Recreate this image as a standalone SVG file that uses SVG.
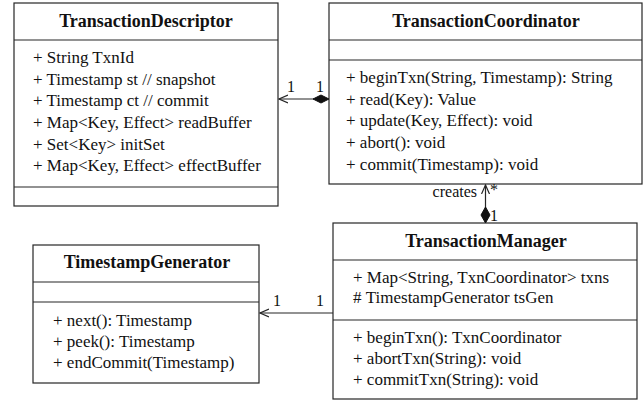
<svg xmlns="http://www.w3.org/2000/svg" width="644" height="402" viewBox="0 0 644 402">
<defs>
<style>
.box{fill:#fff;stroke:#262626;stroke-width:1.2}
.sep{stroke:#262626;stroke-width:1.2}
.t{font-family:'Liberation Serif','Times New Roman',serif;font-size:18px;font-weight:bold;fill:#111;text-anchor:middle}
.m{font-family:'Liberation Serif','Times New Roman',serif;font-size:17px;fill:#111}
.l{font-family:'Liberation Serif','Times New Roman',serif;font-size:16px;fill:#111}
.ln{stroke:#262626;stroke-width:1.2;fill:none}
.dia{fill:#111;stroke:#111;stroke-width:1}
</style>
<marker id="open" viewBox="0 0 10 10" refX="1" refY="5" markerWidth="10" markerHeight="10" markerUnits="userSpaceOnUse" orient="auto">
<path d="M10,1 L1,5 L10,9" fill="none" stroke="#262626" stroke-width="1.2"/>
</marker>
</defs>
<g id="TransactionDescriptor">
<rect class="box" x="14" y="3" width="264" height="203"/>
<line class="sep" x1="14" y1="40" x2="278" y2="40"/>
<line class="sep" x1="14" y1="187" x2="278" y2="187"/>
<text class="t" x="146" y="27">TransactionDescriptor</text>
<text class="m" x="33" y="63">+ String TxnId</text>
<text class="m" x="33" y="84.5">+ Timestamp st // snapshot</text>
<text class="m" x="33" y="106">+ Timestamp ct // commit</text>
<text class="m" x="33" y="128">+ Map&lt;Key, Effect&gt; readBuffer</text>
<text class="m" x="33" y="149.5">+ Set&lt;Key&gt; initSet</text>
<text class="m" x="33" y="171">+ Map&lt;Key, Effect&gt; effectBuffer</text>
</g>
<g id="TransactionCoordinator">
<rect class="box" x="329" y="3" width="313" height="181"/>
<line class="sep" x1="329" y1="40" x2="642" y2="40"/>
<line class="sep" x1="329" y1="60" x2="642" y2="60"/>
<text class="t" x="486" y="27">TransactionCoordinator</text>
<text class="m" x="346" y="83">+ beginTxn(String, Timestamp): String</text>
<text class="m" x="346" y="104.5">+ read(Key): Value</text>
<text class="m" x="346" y="126">+ update(Key, Effect): void</text>
<text class="m" x="346" y="148">+ abort(): void</text>
<text class="m" x="346" y="169.5">+ commit(Timestamp): void</text>
</g>
<g id="TimestampGenerator">
<rect class="box" x="33" y="245" width="226" height="138"/>
<line class="sep" x1="33" y1="282" x2="259" y2="282"/>
<line class="sep" x1="33" y1="302" x2="259" y2="302"/>
<text class="t" x="147" y="268">TimestampGenerator</text>
<text class="m" x="53" y="326">+ next(): Timestamp</text>
<text class="m" x="53" y="347">+ peek(): Timestamp</text>
<text class="m" x="53" y="368">+ endCommit(Timestamp)</text>
</g>
<g id="TransactionManager">
<rect class="box" x="333" y="223" width="304" height="176"/>
<line class="sep" x1="333" y1="260" x2="637" y2="260"/>
<line class="sep" x1="333" y1="320" x2="637" y2="320"/>
<text class="t" x="486" y="247">TransactionManager</text>
<text class="m" x="353" y="283">+ Map&lt;String, TxnCoordinator&gt; txns</text>
<text class="m" x="353" y="303">#&#160;TimestampGenerator tsGen</text>
<text class="m" x="353" y="343">+ beginTxn(): TxnCoordinator</text>
<text class="m" x="353" y="364">+ abortTxn(String): void</text>
<text class="m" x="353" y="385">+ commitTxn(String): void</text>
</g>
<g id="connectors">
<line class="ln" x1="279" y1="99" x2="314" y2="99" marker-start="url(#open)"/>
<path class="dia" d="M313,99 L321,95 L329,99 L321,103 Z"/>
<text class="l" x="287" y="92">1</text>
<text class="l" x="316" y="92">1</text>
<line class="ln" x1="485.5" y1="185" x2="485.5" y2="208" marker-start="url(#open)"/>
<path class="dia" d="M485.5,207 L490,215 L485.5,223 L481,215 Z"/>
<text class="l" x="477" y="197" text-anchor="end">creates</text>
<text class="l" x="490" y="195">*</text>
<text class="l" x="490" y="221">1</text>
<line class="ln" x1="260" y1="313" x2="333" y2="313" marker-start="url(#open)"/>
<text class="l" x="273" y="306">1</text>
<text class="l" x="316" y="306">1</text>
</g>
</svg>
